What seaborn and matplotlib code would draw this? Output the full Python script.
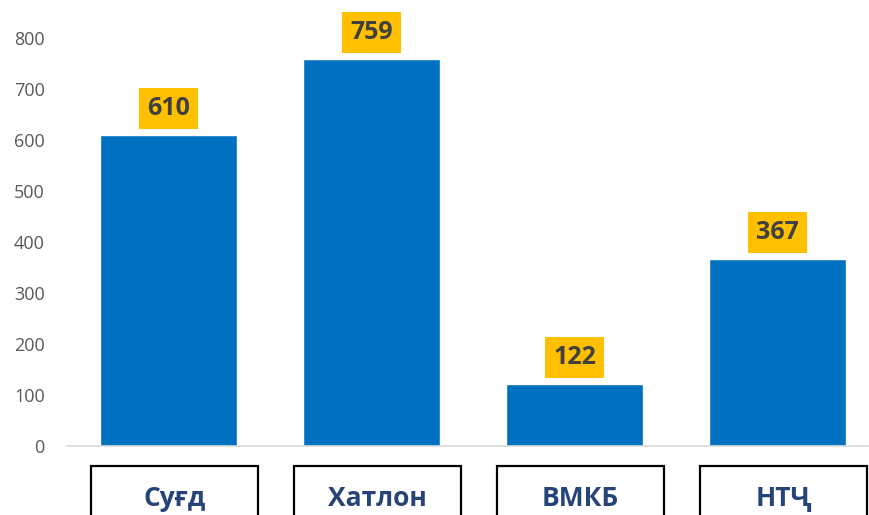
import matplotlib
matplotlib.use("Agg")
import matplotlib.pyplot as plt
import matplotlib.transforms as mtransforms
from matplotlib.patches import Rectangle
import seaborn as sns
import pandas as pd

# data
regions = ["Суғд", "Хатлон", "ВМКБ", "НТҶ"]
counts = [610, 759, 122, 367]
y_ticks = [0, 100, 200, 300, 400, 500, 600, 700, 800]

BAR_COLOR = "#0070C0"
LABEL_BG = "#FFC000"
LABEL_TEXT = "#404040"
CAT_TEXT = "#264478"
TICK_COLOR = "#595959"

sns.set_theme(style="white")
plt.rcParams["font.family"] = ["Open Sans", "DejaVu Sans"]

df = pd.DataFrame({"region": regions, "count": counts})

fig = plt.figure(figsize=(8.7, 5.15), dpi=100)
# axes spills a little past the right edge, like the cropped original
ax = fig.add_axes([67 / 870, 69 / 515, 812 / 870, 408 / 515])

sns.barplot(data=df, x="region", y="count", color=BAR_COLOR, width=0.67,
            saturation=1, ax=ax)

ax.set_ylim(0, 800)
ax.set_xlim(-0.5, len(regions) - 0.5)
ax.set_yticks(y_ticks)
ax.set_yticklabels([str(t) for t in y_ticks], color=TICK_COLOR, fontsize=13)
ax.tick_params(axis="y", length=0, pad=16)
ax.set_xticks([])
ax.set_xlabel("")
ax.set_ylabel("")

for side in ["top", "right", "left"]:
    ax.spines[side].set_visible(False)
ax.spines["bottom"].set_color("#D9D9D9")
ax.spines["bottom"].set_linewidth(1.2)

# value labels in gold boxes
for i, v in enumerate(counts):
    ax.annotate(str(v), (i, v), xytext=(0, 10), textcoords="offset points",
                ha="center", va="bottom", fontsize=18, fontweight="bold",
                color=LABEL_TEXT, annotation_clip=False,
                bbox=dict(boxstyle="square,pad=0.32", fc=LABEL_BG, ec="none"))

# category names in framed boxes under the axis
trans = mtransforms.blended_transform_factory(ax.transData, ax.transAxes)
box_w = 0.82
box_top = -20 / 408
for i, name in enumerate(regions):
    ax.add_patch(Rectangle((i - box_w / 2 + 0.03, box_top - 0.3), box_w, 0.3,
                           transform=trans, fill=False, ec="black", lw=1.6,
                           clip_on=False))
    ax.text(i + 0.03, box_top - 32 / 408, name, transform=trans, ha="center",
            va="center", fontsize=19, fontweight="bold", color=CAT_TEXT)

fig.savefig("out.png", dpi=100)
